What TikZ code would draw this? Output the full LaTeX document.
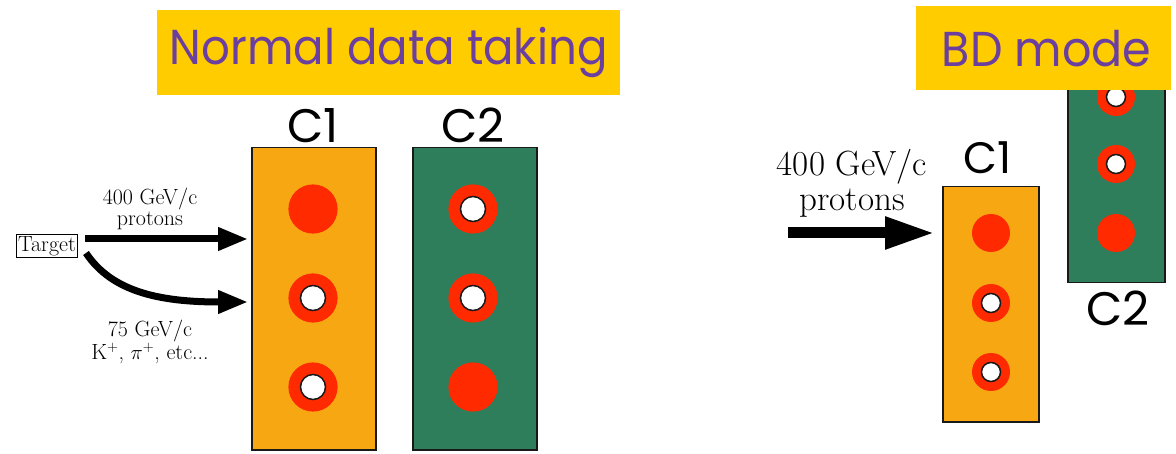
\documentclass[tikz,border=0pt]{standalone}
\usepackage{fontspec}
\newfontfamily\titlefont{Poppins}
\usetikzlibrary{arrows.meta}
\definecolor{cOrange}{HTML}{F7A711}
\definecolor{cGreen}{HTML}{2E7D5B}
\definecolor{cRed}{HTML}{FF2A00}
\definecolor{cYellow}{HTML}{FFCC00}
\definecolor{cPurple}{HTML}{6B3FA0}
\tikzset{
  titlebox/.style={fill=cYellow, inner sep=0pt, text=cPurple, font=\titlefont\fontsize{49}{56}\selectfont},
  clabel/.style={inner sep=0pt, font=\titlefont\fontsize{47}{52}\selectfont},
  chamberA/.style={draw=black!90, line width=1.5pt, fill=cOrange},
  chamberB/.style={draw=black!90, line width=1.5pt, fill=cGreen},
  beamlabel/.style={align=center, inner sep=0pt, font=\fontsize{22}{21}\selectfont},
  bigbeamlabel/.style={align=center, inner sep=0pt, font=\fontsize{35}{35}\selectfont},
  beam/.style={line width=7pt, -{Triangle[length=30pt,width=22pt]}},
  bigbeam/.style={line width=11pt, -{Triangle[length=50pt,width=30pt]}},
}
\newcommand{\fullspot}[3]{\fill[cRed] (#1,#2) circle[radius=#3];}
\newcommand{\holespot}[4]{\fill[cRed] (#1,#2) circle[radius=#3];
  \draw[fill=white, draw=black!90, line width=1.5pt] (#1,#2) circle[radius=#4];}
\begin{document}
\begin{tikzpicture}[x=1pt,y=-1pt]
\useasboundingbox (0,0) rectangle (1176,454);
% ---------- Normal data taking ----------
\node[titlebox, minimum width=463pt, minimum height=85pt, anchor=north west] (title1) at (157,10) {\scalebox{0.92}[1]{Normal data taking}};
\node[chamberA, minimum width=124pt, minimum height=302pt, anchor=north west, inner sep=0pt] (c1) at (251,147) {};
\node[chamberB, minimum width=124pt, minimum height=302pt, anchor=north west, inner sep=0pt] (c2) at (412,147) {};
\node[clabel, anchor=base] (c1lab) at (313,143) {C1};
\node[clabel, anchor=base] (c2lab) at (473,143) {C2};
\fullspot{313}{209}{24.6}
\holespot{313}{298}{24.6}{12.5}
\holespot{313}{387}{24.6}{12.5}
\holespot{473}{209}{24.6}{12.5}
\holespot{473}{298}{24.6}{12.5}
\fullspot{473}{387}{24.6}
\node[draw, line width=1.2pt, inner sep=1.5pt, font=\fontsize{22}{22}\selectfont] (target) at (47,246) {Target};
\coordinate (s1) at (85,239);
\coordinate (e1) at (248,239);
\coordinate (s2) at (86,253);
\coordinate (e2) at (248,302);
\draw[beam] (s1) -- (e1);
\draw[beam] (s2) .. controls (112,292) and (160,302) .. (e2);
\node[beamlabel] (lab1) at (150,209) {400 GeV/c\\protons};
\node[beamlabel] (lab2) at (150,342) {75 GeV/c\\$\mathrm{K}^{+}$, $\pi^{+}$, etc...};
% ---------- BD mode ----------
\node[chamberB, minimum width=97pt, minimum height=210pt, anchor=north west, inner sep=0pt] (c2r) at (1067,72) {};
\node[chamberA, minimum width=96pt, minimum height=235pt, anchor=north west, inner sep=0pt] (c1r) at (942,186) {};
\holespot{1116}{97}{19}{9.5}
\holespot{1116}{164}{19}{9.5}
\fullspot{1116}{233}{19}
\fullspot{991}{233}{19}
\holespot{991}{303}{19}{9.5}
\holespot{991}{372}{19}{9.5}
\node[titlebox, minimum width=255pt, minimum height=84pt, anchor=north west] (title2) at (916,6) {\hspace*{6pt}\scalebox{0.94}[1]{BD mode}};
\node[clabel, anchor=base, font=\titlefont\fontsize{44}{50}\selectfont] (c1rlab) at (988,174) {C1};
\node[clabel, anchor=base] (c2rlab) at (1118,326) {C2};
\coordinate (s3) at (788,233);
\coordinate (e3) at (935,233);
\draw[bigbeam] (s3) -- (e3);
\node[bigbeamlabel] (lab3) at (852,183) {400 GeV/c\\protons};
\end{tikzpicture}
\end{document}
